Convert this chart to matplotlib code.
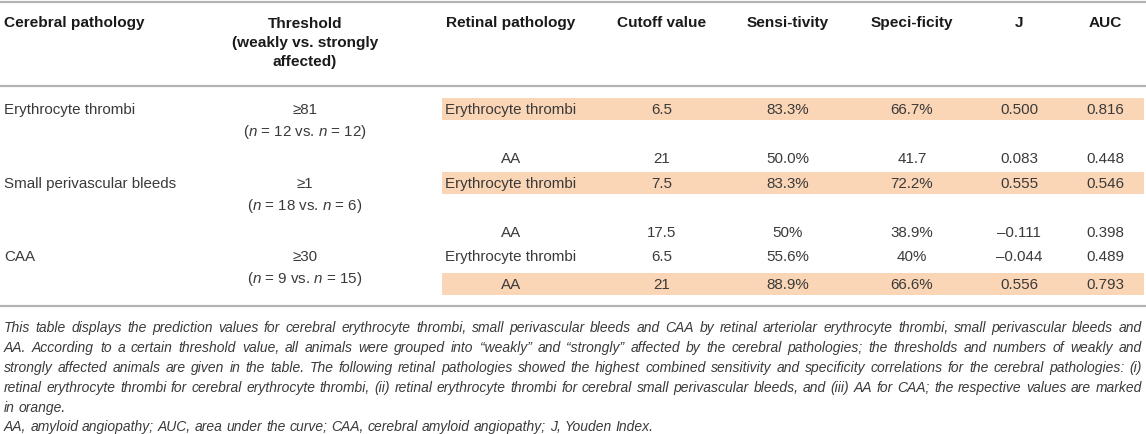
import matplotlib
matplotlib.use('Agg')
import matplotlib.pyplot as plt
from matplotlib.patches import Rectangle

plt.rcParams['font.family'] = ['Liberation Sans', 'DejaVu Sans']
plt.rcParams['mathtext.fontset'] = 'custom'
plt.rcParams['mathtext.rm'] = 'Liberation Sans'
plt.rcParams['mathtext.it'] = 'Liberation Sans:italic'

# table data
headers = ['Cerebral pathology', 'Threshold\n(weakly vs. strongly\naffected)',
           'Retinal pathology', 'Cutoff value', 'Sensi-tivity', 'Speci-ficity', 'J', 'AUC']
cerebral = ['Erythrocyte thrombi', 'Small perivascular bleeds', 'CAA']
thresholds = ['\u226581', '\u22651', '\u226530']
n_weak = [12, 18, 9]
n_strong = [12, 6, 15]
retinal = ['Erythrocyte thrombi', 'AA', 'Erythrocyte thrombi', 'AA', 'Erythrocyte thrombi', 'AA']
cutoff = ['6.5', '21', '7.5', '17.5', '6.5', '21']
sensitivity = ['83.3%', '50.0%', '83.3%', '50%', '55.6%', '88.9%']
specificity = ['66.7%', '41.7', '72.2%', '38.9%', '40%', '66.6%']
youden = ['0.500', '0.083', '0.555', '\u20130.111', '\u20130.044', '0.556']
auc = ['0.816', '0.448', '0.546', '0.398', '0.489', '0.793']
highlight = [True, False, True, False, False, True]

caption = [
    'This table displays the prediction values for cerebral erythrocyte thrombi, small perivascular bleeds and CAA by retinal arteriolar erythrocyte thrombi, small perivascular bleeds and',
    'AA. According to a certain threshold value, all animals were grouped into \u201cweakly\u201d and \u201cstrongly\u201d affected by the cerebral pathologies; the thresholds and numbers of weakly and',
    'strongly affected animals are given in the table. The following retinal pathologies showed the highest combined sensitivity and specificity correlations for the cerebral pathologies: (i)',
    'retinal erythrocyte thrombi for cerebral erythrocyte thrombi, (ii) retinal erythrocyte thrombi for cerebral small perivascular bleeds, and (iii) AA for CAA; the respective values are marked',
    'in orange.',
]
footnote = 'AA, amyloid angiopathy; AUC, area under the curve; CAA, cerebral amyloid angiopathy; J, Youden Index.'

# layout (pixel units)
W, H = 1146, 435
col_x = [4, 305, 511, 662, 788, 912, 1019, 1105]
group_y = [110, 184, 257]
sub_y = [110, 159, 184, 233, 257, 285]
rule_y = [3, 87, 307]
band_x0, band_x1 = 442, 1144
band_h = 22
text_col = '#3a3a3a'
head_col = '#1a1a1a'
orange = '#fbd6b6'
fs = 10.9
head_fs = 11.1

fig = plt.figure(figsize=(W / 100, H / 100), dpi=100)
ax = fig.add_axes([0, 0, 1, 1])
ax.set_xlim(0, W)
ax.set_ylim(H, 0)
ax.axis('off')

for y in rule_y:
    ax.plot([0, W], [y, y], color='#b3b3b3', lw=1.6, solid_capstyle='butt')

# header
ax.text(col_x[0], 23, headers[0], ha='left', va='center', fontsize=head_fs,
        fontweight='bold', color=head_col)
ax.text(col_x[1], 43, headers[1], ha='center', va='center', fontsize=head_fs,
        fontweight='bold', color=head_col, linespacing=1.45)
for x, h in zip(col_x[2:], headers[2:]):
    ax.text(x, 23, h, ha='center', va='center', fontsize=head_fs,
            fontweight='bold', color=head_col)

# cerebral groups
for i, y in enumerate(group_y):
    ax.text(col_x[0], y, cerebral[i], ha='left', va='center', fontsize=fs, color=text_col)
    ax.text(col_x[1], y, thresholds[i], ha='center', va='center', fontsize=fs, color=text_col)
    ax.text(col_x[1], y + 22, '($n$ = %d vs. $n$ = %d)' % (n_weak[i], n_strong[i]),
            ha='center', va='center', fontsize=fs, color=text_col)

# retinal rows
cols = [retinal, cutoff, sensitivity, specificity, youden, auc]
for r, y in enumerate(sub_y):
    if highlight[r]:
        ax.add_patch(Rectangle((band_x0, y - band_h / 2), band_x1 - band_x0, band_h,
                               facecolor=orange, edgecolor='none', zorder=0))
    for x, col in zip(col_x[2:], cols):
        ax.text(x, y, col[r], ha='center', va='center', fontsize=fs, color=text_col)

# caption, justified across the table width
renderer = fig.canvas.get_renderer()
x_left, x_right = 4, 1142

# pick the caption size so the widest line just fits with normal spacing
probe = ax.text(0, 0, max(caption, key=len), fontsize=10, style='italic')
probe_w = probe.get_window_extent(renderer).width
probe.remove()
cap_fs = min(10.8, 10 * (x_right - x_left) * 0.985 / probe_w)


def justify_line(text, y, justify=True):
    words = text.split()
    arts = [ax.text(0, y, w, ha='left', va='center', fontsize=cap_fs,
                    style='italic', color=text_col) for w in words]
    widths = [a.get_window_extent(renderer).width for a in arts]
    if justify and len(words) > 1:
        gap = (x_right - x_left - sum(widths)) / (len(words) - 1)
    else:
        gap = cap_fs * 100 / 72 * 0.278
    x = x_left
    for a, w in zip(arts, widths):
        a.set_x(x)
        x += w + gap


cap_y = [328, 348, 368, 388, 408]
for i, line in enumerate(caption):
    justify_line(line, cap_y[i], justify=(i < len(caption) - 1))
justify_line(footnote, 427, justify=False)

fig.savefig('out.png', dpi=100)
